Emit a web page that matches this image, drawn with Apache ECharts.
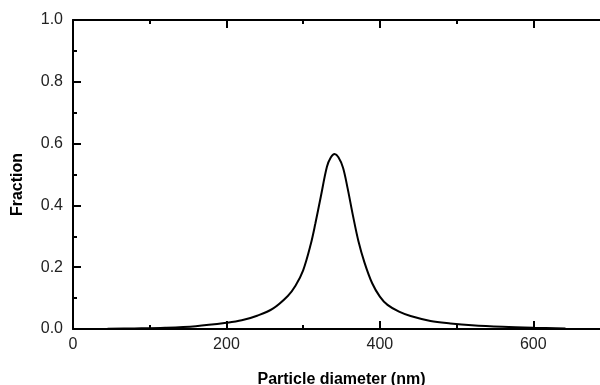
<!DOCTYPE html>
<html>
<head>
<meta charset="utf-8">
<script src="https://cdn.jsdelivr.net/npm/echarts@6/dist/echarts.min.js"></script>
<style>html,body{margin:0;padding:0;background:#fff;}#c{width:600px;height:385px;}</style>
</head>
<body>
<div id="c"></div>
<script>
const diameters = [45,80,120,160,200,220,240,260,280,290,300,310,316,323,331,336,341,346,352,358,365,372,380,390,400,410,425,440,466,492,520,560,600,642];
const fractions = [0.001,0.002,0.004,0.009,0.020,0.028,0.043,0.065,0.107,0.140,0.190,0.275,0.342,0.428,0.525,0.555,0.566,0.556,0.522,0.455,0.366,0.285,0.215,0.148,0.105,0.078,0.056,0.042,0.026,0.018,0.012,0.007,0.004,0.002];
const xTicks = [0,200,400,600];
const yTicks = [0.0,0.2,0.4,0.6,0.8,1.0];

const chart = echarts.init(document.getElementById('c'));
const font = 'Liberation Sans, Arial, sans-serif';
const axisLine = {show:true, onZero:false, lineStyle:{color:'#000', width:2}};
const tick = {show:true, inside:true, length:8, lineStyle:{color:'#000', width:2}};
const minor = {show:true, splitNumber:2, length:4, lineStyle:{color:'#000', width:2}};
chart.setOption({
  animation:false,
  grid:{left:73, top:20, width:537, bottom:56, containLabel:false, outerBoundsMode:'none'},
  xAxis:[{
    type:'value', min:0, max:700, interval:200, position:'bottom',
    axisLine:axisLine, axisTick:tick, minorTick:minor,
    splitLine:{show:false},
    axisLabel:{fontFamily:font, fontSize:16, color:'#222', margin:8, showMaxLabel:false,
      formatter:v => xTicks.includes(v) ? String(v) : ''},
    name:'Particle diameter (nm)', nameLocation:'middle', nameGap:43,
    nameTextStyle:{fontFamily:font, fontSize:16, fontWeight:'bold', color:'#000'}
  },{
    type:'value', min:0, max:700, interval:200, position:'top',
    axisLine:axisLine, axisTick:tick, minorTick:minor,
    splitLine:{show:false}, axisLabel:{show:false}
  }],
  yAxis:[{
    type:'value', min:0, max:1, interval:0.2,
    axisLine:axisLine, axisTick:tick, minorTick:minor,
    splitLine:{show:false},
    axisLabel:{fontFamily:font, fontSize:16, color:'#222', margin:10,
      formatter:v => { const t = yTicks.find(y => Math.abs(y - v) < 1e-9); return t === undefined ? '' : t.toFixed(1); }},
    name:'Fraction', nameLocation:'middle', nameGap:47,
    nameTextStyle:{fontFamily:font, fontSize:16, fontWeight:'bold', color:'#000', padding:[0,20,0,0]}
  }],
  series:[{
    type:'line', xAxisIndex:0, yAxisIndex:0,
    data: diameters.map((d,i) => [d, fractions[i]]),
    smooth:0.35, showSymbol:false,
    lineStyle:{color:'#000', width:2}
  }]
});
</script>
</body>
</html>
